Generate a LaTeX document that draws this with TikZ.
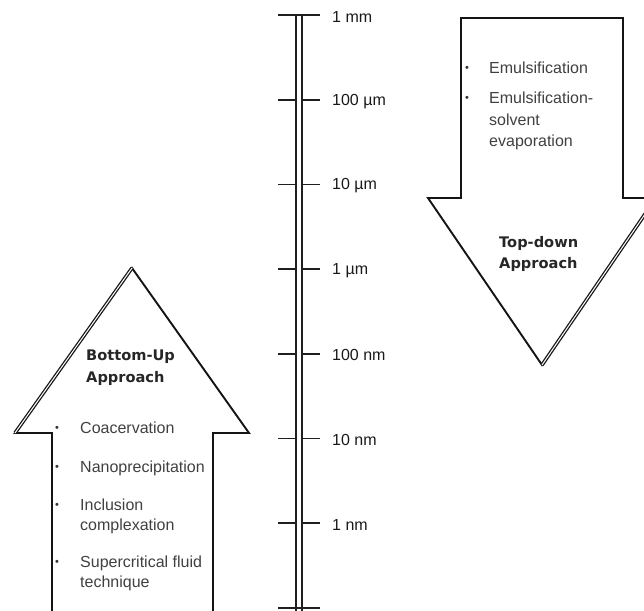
\documentclass[tikz,border=0pt]{standalone}
\usepackage{fontspec}
\setmainfont{Liberation Sans}
\newfontfamily\headfont{DejaVu Sans}
\usetikzlibrary{positioning}

\begin{document}
\begin{tikzpicture}[x=1pt,y=-1pt,
    outline/.style = {line width=1.9pt, draw=black!92, line join=miter},
 shadowedge/.style = {line width=1.3pt, draw=black!90, double=white, double distance=1pt},
      tube/.style = {line width=2pt, draw=black!88},
  scaletick/.style = {line width=1.7pt, draw=black!88},
      item/.style = {anchor=base west, inner sep=0pt, text=black!75, font=\fontsize{16}{20}\selectfont},
       dot/.style = {anchor=base, inner sep=0pt, text=black!80, font=\fontsize{11}{11}\selectfont},
   heading/.style = {anchor=base west, inner sep=0pt, text=black!85, font=\headfont\bfseries\fontsize{14.6}{20}\selectfont},
 scalelabel/.style = {anchor=west, inner sep=0pt, text=black!90, font=\fontsize{16}{16}\selectfont}]
\useasboundingbox (0,0) rectangle (644,610);

% size scale
\draw[tube] (296,15) -- (296,614);
\draw[tube] (302,15) -- (302,614);
\draw[scaletick] (278,15) -- (320,15);
\draw[scaletick] (278,608) -- (320,608);
\foreach \lab [count=\i from 0] in {1 mm,100 µm,10 µm,1 µm,100 nm,10 nm,1 nm} {
  \pgfmathsetmacro{\ty}{15+84.7*\i}
  \ifnum\i>0
    \draw[scaletick] (278,\ty) -- (295,\ty);
    \draw[scaletick] (303,\ty) -- (320,\ty);
  \fi
  \node[scalelabel] (lbl\i) at (332,\ty+1.5) {\lab};
}

% bottom-up arrow
\draw[outline] (52,614) -- (52,433) -- (15,433) -- (132,268) -- (249,433) -- (213,433) -- (213,614);
\draw[shadowedge] (15,433) -- (132,268);
\node[heading] (bu1) at (86,360) {Bottom-Up};
\node[heading] (bu2) at (86,382) {Approach};
\node[dot] (bd1) at (57,431) {\textbullet};
\node[item] (coac) at (80,433) {Coacervation};
\node[dot] (bd2) at (57,470) {\textbullet};
\node[item] (nano) at (80,472) {Nanoprecipitation};
\node[dot] (bd3) at (57,508) {\textbullet};
\node[item] (incl) at (80,510) {Inclusion};
\node[item] (cplx) at (80,530) {complexation};
\node[dot] (bd4) at (57,565) {\textbullet};
\node[item] (scf) at (80,567) {Supercritical fluid};
\node[item] (tech) at (80,587) {technique};

% top-down arrow
\draw[outline] (461,18) -- (623,18) -- (623,198) -- (656,198) -- (542,365) -- (428,198) -- (461,198) -- cycle;
\draw[shadowedge] (656,198) -- (542,365);
\node[dot] (td1) at (467,71) {\textbullet};
\node[item] (emul) at (489,73) {Emulsification};
\node[dot] (td2) at (467,101) {\textbullet};
\node[item] (emsv) at (489,103) {Emulsification-};
\node[item] (solv) at (489,125) {solvent};
\node[item] (evap) at (489,146) {evaporation};
\node[heading] (td3) at (499,247) {Top-down};
\node[heading] (td4) at (499,268) {Approach};
\end{tikzpicture}
\end{document}
